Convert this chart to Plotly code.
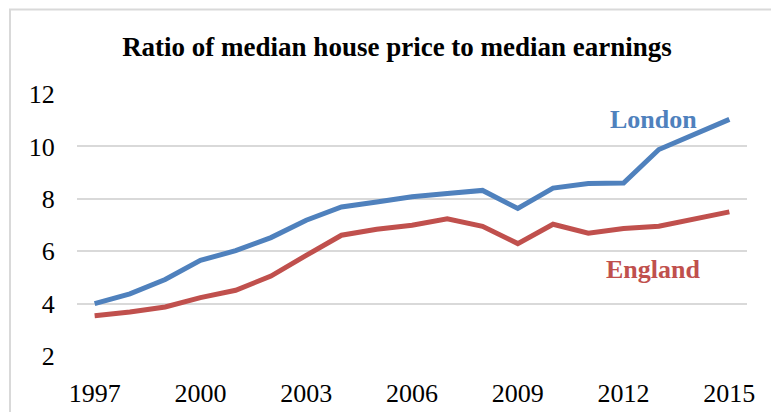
import plotly.graph_objects as go

years = list(range(1997, 2016))
london = [4.00, 4.37, 4.92, 5.65, 6.02, 6.52, 7.18, 7.69, 7.88, 8.08, 8.20, 8.32, 7.63, 8.41, 8.58, 8.60, 9.88, 10.46, 11.03]
england = [3.54, 3.68, 3.87, 4.23, 4.51, 5.05, 5.84, 6.61, 6.84, 6.99, 7.24, 6.95, 6.29, 7.03, 6.69, 6.87, 6.95, 7.24, 7.50]
x_ticks = [1997, 2000, 2003, 2006, 2009, 2012, 2015]
y_ticks = [2, 4, 6, 8, 10, 12]
title = "Ratio of median house price to median earnings"

BLUE = "#4F81BD"
RED = "#C0504D"
SERIF = "Liberation Serif, Times New Roman, serif"

fig = go.Figure()
fig.add_trace(go.Scatter(x=years, y=london, mode="lines", name="London",
                         line=dict(color=BLUE, width=5)))
fig.add_trace(go.Scatter(x=years, y=england, mode="lines", name="England",
                         line=dict(color=RED, width=5)))

L, R, T, B = 77, 24, 94, 56
W, H = 771, 412
pw, ph = W - L - R, H - T - B

def px_to_paper_x(px):
    return (px - L) / pw

def px_to_paper_y(py):
    return (H - B - py) / ph

fig.add_shape(type="rect", xref="paper", yref="paper",
              x0=px_to_paper_x(10), x1=px_to_paper_x(790),
              y0=px_to_paper_y(430), y1=px_to_paper_y(9.5),
              line=dict(color="#D9D9D9", width=2), fillcolor="rgba(0,0,0,0)",
              layer="below")

fig.add_annotation(x=2012.84, y=11.04, text="<b>London</b>", showarrow=False,
                   font=dict(family=SERIF, size=26, color=BLUE))
fig.add_annotation(x=2012.84, y=5.30, text="<b>England</b>", showarrow=False,
                   font=dict(family=SERIF, size=26, color=RED))

fig.update_layout(
    width=W, height=H,
    margin=dict(l=L, r=R, t=T, b=B, autoexpand=False),
    paper_bgcolor="white", plot_bgcolor="white",
    showlegend=False,
    title=dict(text="<b>" + title + "</b>", x=397 / W, xanchor="center",
               y=1 - 47 / H, yanchor="middle", xref="container", yref="container",
               font=dict(family=SERIF, size=27, color="black")),
    font=dict(family=SERIF, size=26, color="black"),
)
fig.update_xaxes(range=[1996.5, 2015.5], tickvals=x_ticks, ticktext=[str(v) for v in x_ticks],
                 showgrid=False, zeroline=False, showline=False, automargin=False,
                 ticks="outside", ticklen=14, tickcolor="rgba(0,0,0,0)",
                 tickfont=dict(family=SERIF, size=26, color="black"))
fig.update_yaxes(range=[2, 12], tickvals=y_ticks, showgrid=True, gridcolor="#D9D9D9", gridwidth=1.5,
                 zeroline=False, showline=False, automargin=False,
                 ticks="outside", ticklen=16, tickcolor="rgba(0,0,0,0)",
                 tickfont=dict(family=SERIF, size=26, color="black"))

fig.write_html("out.html", config={"displayModeBar": False},
               post_script="document.body.style.margin='0';document.body.style.overflow='hidden';")
